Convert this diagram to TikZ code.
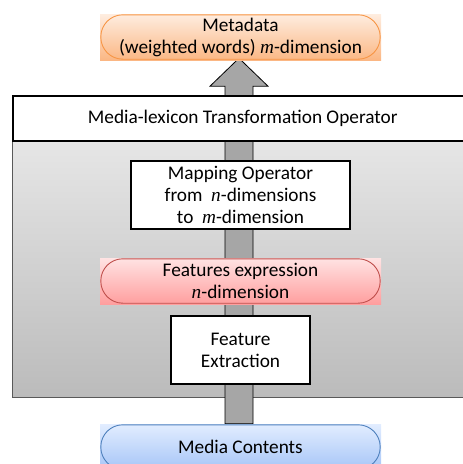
\documentclass[tikz,border=0pt]{standalone}
\usepackage{fontspec}
\setmainfont{Carlito}
\newfontfamily\varfont{Liberation Serif}
\newcommand{\vv}[1]{{\varfont\itshape #1}}
\usetikzlibrary{calc}
\pgfdeclarelayer{bg}
\pgfdeclarelayer{mid}
\pgfsetlayers{bg,mid,main}
\definecolor{orTop}{HTML}{FEEDE0}
\definecolor{orBot}{HTML}{FBB784}
\definecolor{orLine}{HTML}{F79646}
\definecolor{rdTop}{HTML}{FFE3E3}
\definecolor{rdBot}{HTML}{FF9E9E}
\definecolor{rdLine}{HTML}{C0504D}
\definecolor{blTop}{HTML}{E2EDFF}
\definecolor{blBot}{HTML}{A6C5F7}
\definecolor{blLine}{HTML}{4F81BD}
\definecolor{gyTop}{HTML}{E6E6E6}
\definecolor{gyBot}{HTML}{BBBBBB}
\definecolor{gyLine}{HTML}{595959}
\definecolor{arrFill}{HTML}{A6A6A6}
\begin{document}
\begin{tikzpicture}[x=1pt,y=-1pt,
  txt/.style={font=\fontsize{19.3}{22}\selectfont, align=center, text=black},
  whitebox/.style={txt, draw=black, line width=1.6pt, fill=white, inner sep=0pt},
  pill/.style={txt, inner sep=0pt, minimum width=281pt, minimum height=46pt},
  pilledge/.style={line width=0.9pt, rounded corners=22pt},
  arrowst/.style={draw=black, line width=0.8pt, fill=arrFill, line join=miter},
]
\useasboundingbox (0,0) rectangle (463,464);
% panel
\begin{pgfonlayer}{bg}
\node[anchor=north west, minimum width=460pt, minimum height=257pt, inner sep=0pt,
      top color=gyTop, bottom color=gyBot, draw=gyLine, line width=1.3pt] (panel) at (12,140) {};
\end{pgfonlayer}
% nodes
\node[whitebox, minimum width=460pt, minimum height=45pt, anchor=north west] (title) at (12,95) {Media-lexicon Transformation Operator};
\node[pill, top color=orTop, bottom color=orBot] (meta) at (240.5,37) {Metadata\\(weighted words) \vv{m}-dimension};
\draw[orLine, pilledge] ($(meta.north west)+(1,1)$) rectangle ($(meta.south east)+(-1,-1)$);
\node[whitebox, minimum width=219pt, minimum height=68pt] (map) at (240.5,195) {Mapping Operator\\from\ \ \vv{n}-dimensions\\to\ \ \vv{m}-dimension};
\node[pill, top color=rdTop, bottom color=rdBot] (feat) at (240.5,281) {Features expression\\\vv{n}-dimension};
\draw[rdLine, pilledge] ($(feat.north west)+(1,1)$) rectangle ($(feat.south east)+(-1,-1)$);
\node[whitebox, minimum width=139pt, minimum height=68pt] (extr) at (240.5,350) {Feature\\Extraction};
\node[pill, top color=blTop, bottom color=blBot] (media) at (240.5,447) {Media Contents};
\draw[blLine, pilledge] ($(media.north west)+(1,1)$) rectangle ($(media.south east)+(-1,-1)$);
% arrow
\begin{pgfonlayer}{mid}
\draw[arrowst] ($(media.north)+(-15.5,0)$) -- ($(meta.south)+(-15.5,26)$) -- ($(meta.south)+(-30.5,26)$)
  -- ($(meta.south)+(-1.5,-2)$) -- ($(meta.south)+(27.5,26)$) -- ($(meta.south)+(12.5,26)$)
  -- ($(media.north)+(12.5,0)$) -- cycle;
\end{pgfonlayer}
\end{tikzpicture}
\end{document}
